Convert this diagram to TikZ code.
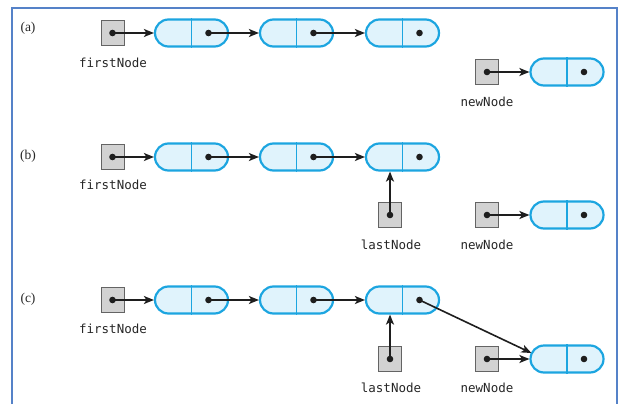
\documentclass[tikz,border=0pt]{standalone}
\usepackage{fontspec}
\newfontfamily\codefont{DejaVu Sans Mono}
\newfontfamily\tagfont{Liberation Serif}
\usetikzlibrary{arrows.meta,calc}
\definecolor{frameblue}{RGB}{85,130,200}
\definecolor{nodeblue}{RGB}{28,165,224}
\definecolor{nodefill}{RGB}{224,243,252}
\definecolor{refgray}{RGB}{100,100,100}
\definecolor{reffill}{RGB}{210,210,210}
\definecolor{ptrcol}{RGB}{30,30,30}
\newcommand\listnode[3]{%
  \node[lnode] (#1) at (#2,#3) {};
  \draw[nodeblue,line width=1.5pt] (#1.north) -- (#1.south);
  \coordinate (#1d) at ($(#1.center)+(17,0)$);
  \fill[ptrcol] (#1d) circle (3.3pt);}
\newcommand\refbox{}
\renewcommand\refbox[3]{%
  \node[refsq] (#1) at (#2,#3) {};
  \fill[ptrcol] (#1.center) circle (3.3pt);}
\begin{document}
\begin{tikzpicture}[x=1pt,y=1pt,
  lnode/.style={draw=nodeblue,fill=nodefill,line width=2.2pt,minimum width=73pt,minimum height=27pt,rounded corners=13.5pt,inner sep=0pt},
  refsq/.style={draw=refgray,fill=reffill,line width=1pt,minimum width=23pt,minimum height=25pt,inner sep=0pt},
  ptr/.style={line width=1.6pt,draw=ptrcol,-{Stealth[length=10pt,width=8pt,inset=2.5pt]}},
  lbl/.style={font=\codefont\fontsize{12.5}{13}\selectfont,inner sep=0pt,text=black!85},
  tag/.style={font=\tagfont\fontsize{13.5}{15}\selectfont,inner sep=0pt,text=black!85}]
\useasboundingbox (0,0) rectangle (626,-404);
\draw[frameblue,line width=2pt] (12,-404) -- (12,-8) -- (617,-8) -- (617,-404);

% ---------- (a)
\node[tag] (ta) at (28,-28) {(a)};
\listnode{a1}{191.5}{-33}
\listnode{a2}{296.5}{-33}
\listnode{a3}{402.5}{-33}
\listnode{an}{567}{-72}
\refbox{afirst}{112.5}{-33}
\refbox{anew}{487}{-72}
\node[lbl] (afl) at (113,-63) {firstNode};
\node[lbl] (anl) at (487,-102) {newNode};
\draw[ptr] (afirst.center) -- (a1.west);
\draw[ptr] (a1d) -- (a2.west);
\draw[ptr] (a2d) -- (a3.west);
\draw[ptr] (anew.center) -- (an.west);

% ---------- (b)
\node[tag] (tb) at (28,-156) {(b)};
\listnode{b1}{191.5}{-157}
\listnode{b2}{296.5}{-157}
\listnode{b3}{402.5}{-157}
\listnode{bn}{567}{-215}
\refbox{bfirst}{112.5}{-157}
\refbox{blast}{390}{-215}
\refbox{bnew}{487}{-215}
\node[lbl] (bfl) at (113,-185) {firstNode};
\node[lbl] (bll) at (391,-245) {lastNode};
\node[lbl] (bnl) at (487,-245) {newNode};
\draw[ptr] (bfirst.center) -- (b1.west);
\draw[ptr] (b1d) -- (b2.west);
\draw[ptr] (b2d) -- (b3.west);
\draw[ptr] (blast.center) -- (blast.center |- b3.south);
\draw[ptr] (bnew.center) -- (bn.west);

% ---------- (c)
\node[tag] (tc) at (28,-299) {(c)};
\listnode{c1}{191.5}{-300}
\listnode{c2}{296.5}{-300}
\listnode{c3}{402.5}{-300}
\listnode{cn}{567}{-359}
\refbox{cfirst}{112.5}{-300}
\refbox{clast}{390}{-359}
\refbox{cnew}{487}{-359}
\node[lbl] (cfl) at (113,-329) {firstNode};
\node[lbl] (cll) at (391,-388) {lastNode};
\node[lbl] (cnl) at (487,-388) {newNode};
\draw[ptr] (cfirst.center) -- (c1.west);
\draw[ptr] (c1d) -- (c2.west);
\draw[ptr] (c2d) -- (c3.west);
\draw[ptr] (clast.center) -- (clast.center |- c3.south);
\draw[ptr] (cnew.center) -- (cn.west);
\coordinate (cnin) at ($(cn.west)+(2,6)$);
\draw[ptr] (c3d) -- (cnin);
\end{tikzpicture}
\end{document}
